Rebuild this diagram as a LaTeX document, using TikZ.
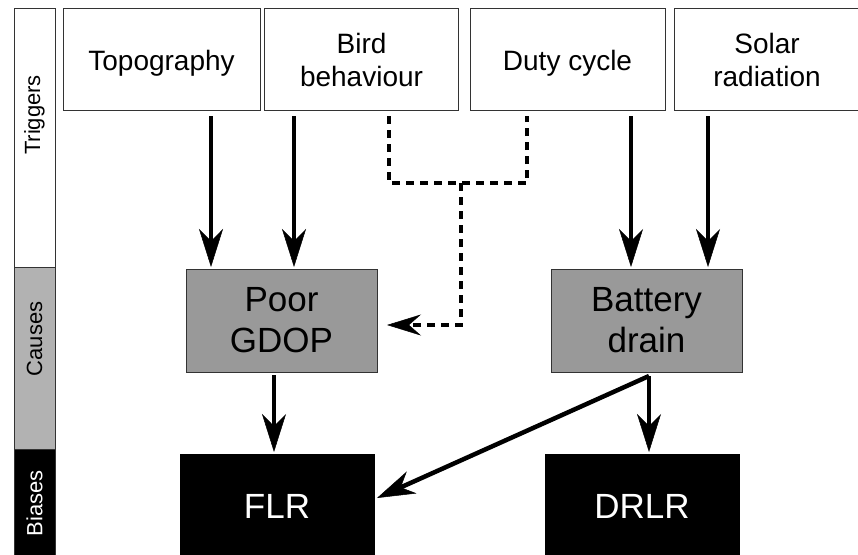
\documentclass[tikz,border=0pt]{standalone}
\usepackage{fontspec}
\setmainfont{Liberation Sans}
\usetikzlibrary{arrows.meta}
\begin{document}
\begin{tikzpicture}[x=1pt,y=-1pt,
  trig/.style={draw=black!80,line width=1pt,fill=white,font=\fontsize{28}{33}\selectfont,align=center,inner sep=0pt},
  cause/.style={draw=black!80,line width=1pt,fill=black!40,font=\fontsize{35}{41}\selectfont,align=center,inner sep=0pt},
  bias/.style={draw=black,line width=1pt,fill=black,text=white,font=\fontsize{35}{41}\selectfont,align=center,inner sep=0pt},
  band/.style={draw=black!80,line width=1pt},
  blabel/.style={rotate=90,font=\fontsize{22}{25}\selectfont},
  arr/.style={line width=4.5pt,-{Stealth[length=38pt,width=24pt,inset=12pt,line width=0.5pt]}},
  darr/.style={line width=4pt,dash pattern=on 8pt off 6pt,-{Stealth[length=34pt,width=21pt,inset=12pt,line width=0.5pt]}},
  dline/.style={line width=4pt,dash pattern=on 8pt off 6pt}]
\useasboundingbox (0,0) rectangle (858,554);
% side bands
\draw[band,fill=white] (14,8) rectangle (55,267);
\draw[band,fill=black!30] (14,267) rectangle (55,449);
\draw[band,fill=black] (14,449) rectangle (55,560);
\node[blabel] (ltrig) at (34.5,115) {Triggers};
\node[blabel] (lcaus) at (34.5,339) {Causes};
\node[blabel,text=white] (lbias) at (34.5,503) {Biases};
% trigger boxes
\node[trig,minimum width=197pt,minimum height=102pt] (topo) at (161.5,59.5) {\raisebox{-4pt}[\height][\depth]{Topography}};
\node[trig,minimum width=194pt,minimum height=102pt] (bird) at (361.5,59.5) {Bird\\behaviour};
\node[trig,minimum width=195pt,minimum height=102pt] (duty) at (567.5,59.5) {\raisebox{-4pt}[\height][\depth]{Duty cycle}};
\node[trig,minimum width=186pt,minimum height=102pt] (solar) at (767,59.5) {Solar\\radiation};
% causes
\node[cause,minimum width=191pt,minimum height=103pt] (gdop) at (281.5,320.5) {Poor\\GDOP};
\node[cause,minimum width=191pt,minimum height=103pt] (batt) at (646.5,320.5) {Battery\\drain};
% biases
\node[bias,minimum width=194pt,minimum height=104pt] (flr) at (277,506) {FLR};
\node[bias,minimum width=194pt,minimum height=104pt] (drlr) at (642,506) {DRLR};
% coordinates
\coordinate (t1) at (211,116);
\coordinate (t1e) at (211,267);
\coordinate (b1) at (294,116);
\coordinate (b1e) at (294,267);
\coordinate (d1) at (631,116);
\coordinate (d1e) at (631,267);
\coordinate (s1) at (708,116);
\coordinate (s1e) at (708,267);
\coordinate (bd) at (389,116);
\coordinate (dd) at (527,116);
\coordinate (jn) at (461,183);
\coordinate (ge) at (387,325);
\coordinate (g1) at (274,375);
\coordinate (g1e) at (274,452);
\coordinate (bt) at (649,376);
\coordinate (bte) at (649,452);
\coordinate (fe) at (377,498);
% arrows
\draw[arr] (t1) -- (t1e);
\draw[arr] (b1) -- (b1e);
\draw[arr] (d1) -- (d1e);
\draw[arr] (s1) -- (s1e);
\draw[dline] (bd) |- (jn) -| (dd);
\draw[darr] (jn) |- (ge);
\draw[arr] (g1) -- (g1e);
\draw[arr] (bt) -- (bte);
\draw[arr] (bt) -- (fe);
\end{tikzpicture}
\end{document}
